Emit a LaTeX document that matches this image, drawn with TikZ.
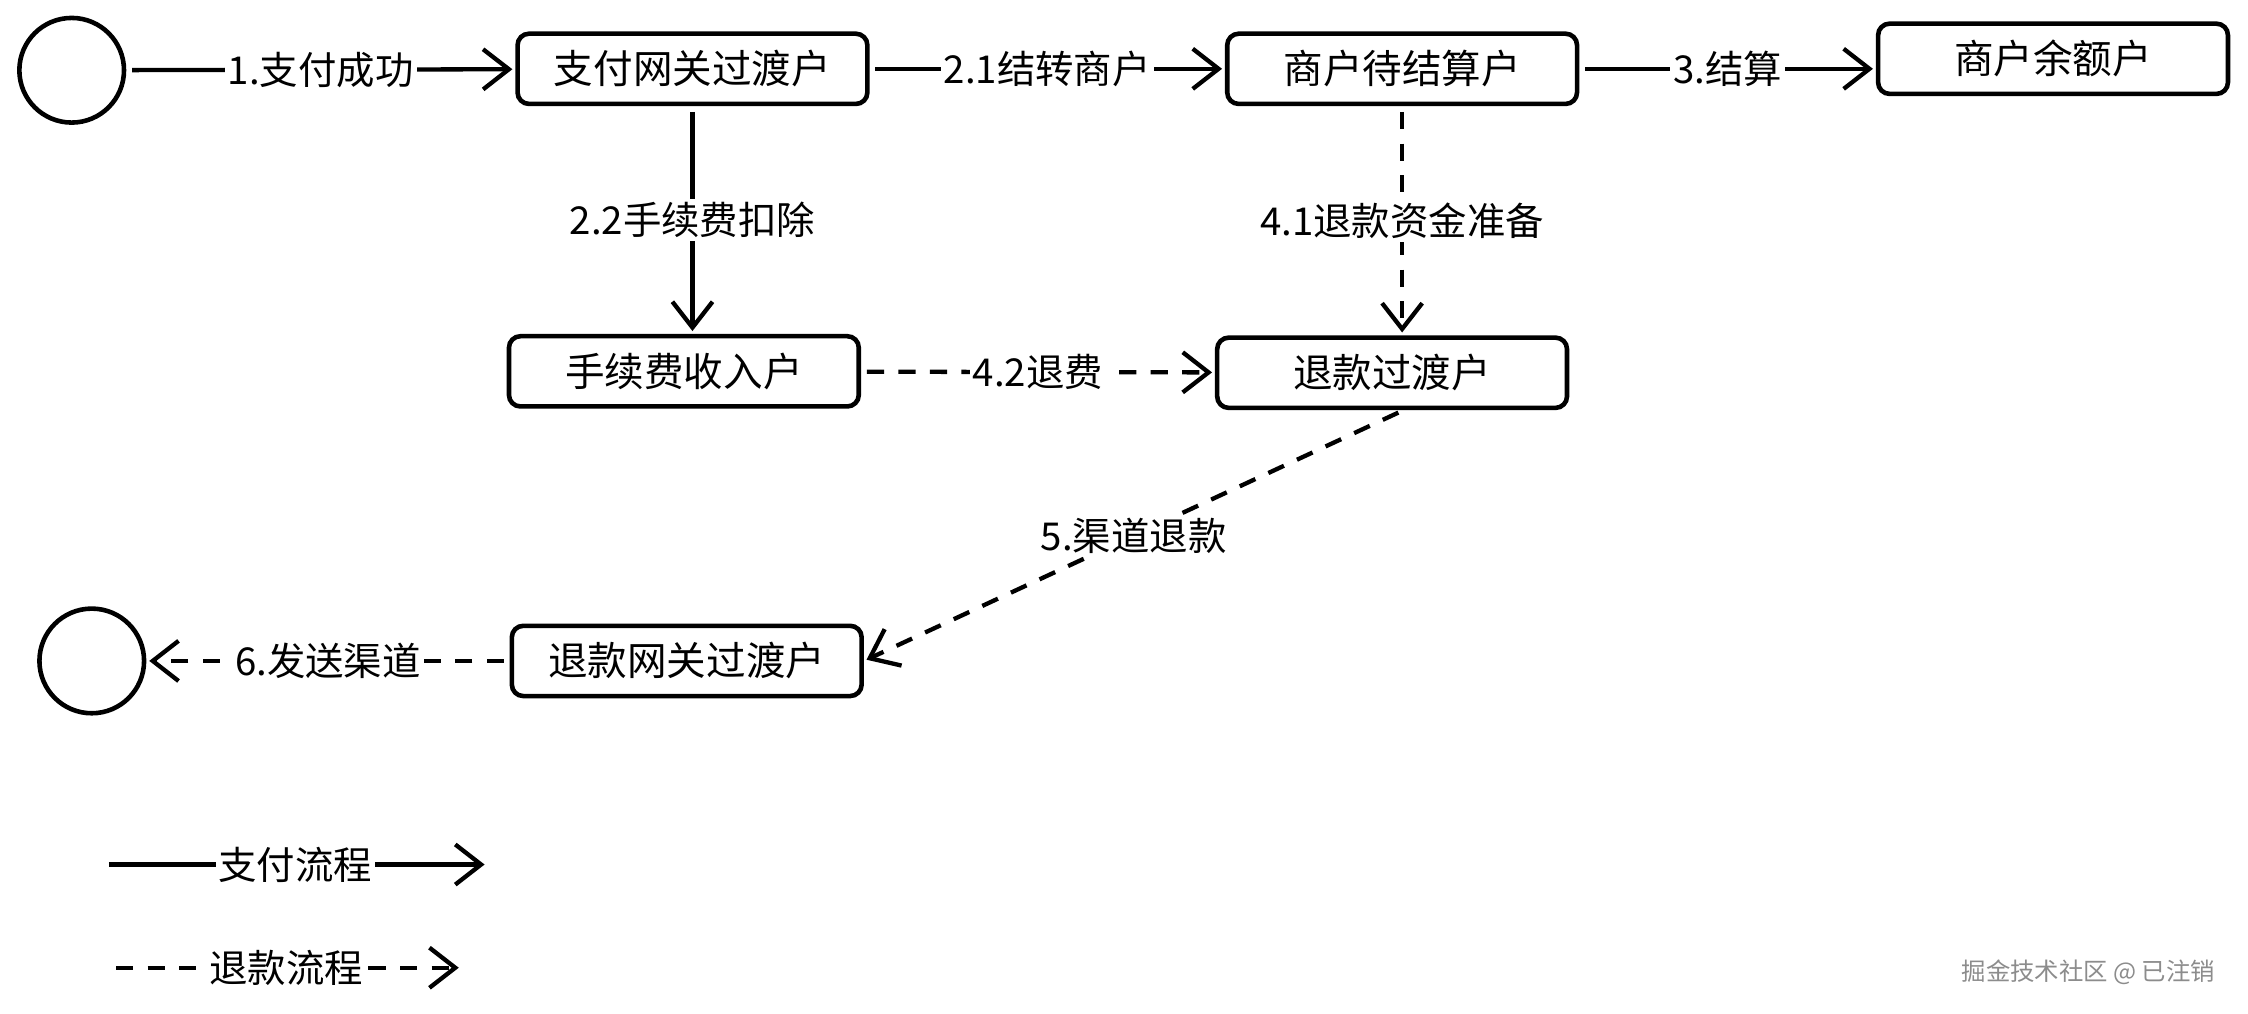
\documentclass[tikz,border=0pt]{standalone}
\usepackage{fontspec}
\setmainfont{Noto Sans CJK SC}
\usetikzlibrary{arrows.meta}
\begin{document}
\begin{tikzpicture}[x=0.5pt,y=-0.5pt,
  acct/.style={draw, line width=1.6pt, rounded corners=4pt, minimum width=122pt, minimum height=24.5pt, inner sep=0pt, font=\fontsize{13.8}{15}\selectfont},
  term/.style={draw, circle, line width=1.6pt, minimum size=36.5pt, inner sep=0pt},
  flow/.style={line width=1.5pt, shorten <=2pt, shorten >=1pt, -{Straight Barb[length=9pt,width=14pt,line width=1.5pt]}},
  pay/.style={flow},
  refund/.style={flow, dash pattern=on 6pt off 5pt},
  lbl/.style={fill=white, inner sep=1pt, font=\fontsize{13.4}{15}\selectfont}]
\useasboundingbox (0,0) rectangle (1568,707);

\node[term] (start) at (50,49) {};
\node[acct] (gw) at (483,48) {支付网关过渡户};
\node[acct] (pend) at (978,48) {商户待结算户};
\node[acct] (bal) at (1432,41) {商户余额户};
\node[acct] (fee) at (477,259) {手续费收入户};
\node[acct] (rt) at (971,260) {退款过渡户};
\node[acct] (rgw) at (479,461) {退款网关过渡户};
\node[term] (end) at (64,461) {};

\draw[pay] (start) -- (gw) node[lbl,midway] {1.支付成功};
\draw[pay] (gw) -- (pend) node[lbl,midway] {2.1结转商户};
\draw[pay] (pend.east) -- (bal.west |- pend.east) node[lbl,midway] {3.结算};
\draw[pay] (gw.south) -- (gw.south |- fee.north) node[lbl,midway] {2.2手续费扣除};
\draw[refund] (pend.south) -- (pend.south |- rt.north) node[lbl,midway] {4.1退款资金准备};
\draw[refund] (fee) -- (rt) node[lbl,midway] {4.2退费};
\draw[refund] ([xshift=4pt]rt.south) -- (rgw.east) node[lbl,midway] {5.渠道退款};
\draw[refund] (rgw) -- (end) node[lbl,midway] {6.发送渠道};

\coordinate (l1a) at (72,603);
\coordinate (l1b) at (340,603);
\coordinate (l2a) at (77,675);
\coordinate (l2b) at (322,675);
\draw[pay] (l1a) -- (l1b) node[lbl,midway] {支付流程};
\draw[refund] (l2a) -- (l2b) node[lbl,midway] {退款流程};

\node[text=black!45, font=\fontsize{8.5}{10}\selectfont, anchor=east] (wm) at (1552,678) {掘金技术社区 @ 已注销};
\end{tikzpicture}
\end{document}
